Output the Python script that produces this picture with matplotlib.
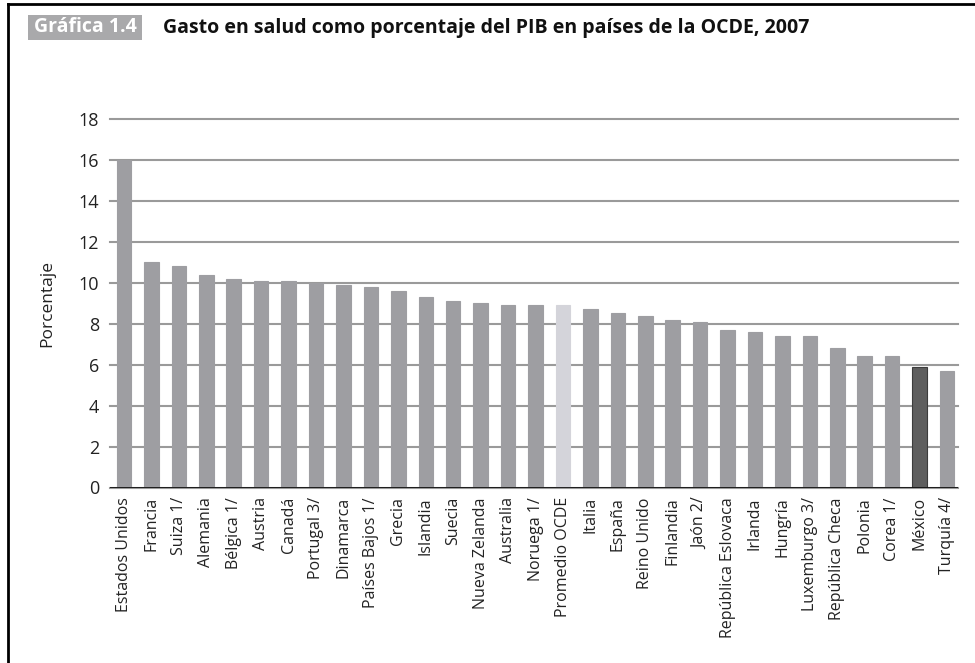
import numpy as np
import matplotlib.pyplot as plt
from matplotlib.lines import Line2D
from matplotlib.patches import Rectangle

paises = ["Estados Unidos", "Francia", "Suiza 1/", "Alemania", "Bélgica 1/",
          "Austria", "Canadá", "Portugal 3/", "Dinamarca", "Países Bajos 1/",
          "Grecia", "Islandia", "Suecia", "Nueva Zelanda", "Australia",
          "Noruega 1/", "Promedio OCDE", "Italia", "España", "Reino Unido",
          "Finlandia", "Jaón 2/", "República Eslovaca", "Irlanda", "Hungría",
          "Luxemburgo 3/", "República Checa", "Polonia", "Corea 1/", "México",
          "Turquía 4/"]
gasto = [16.0, 11.0, 10.8, 10.4, 10.2,
         10.1, 10.1, 10.0, 9.9, 9.8,
         9.6, 9.3, 9.1, 9.0, 8.9,
         8.9, 8.9, 8.7, 8.5, 8.4,
         8.2, 8.1, 7.7, 7.6, 7.4,
         7.4, 6.8, 6.4, 6.4, 5.9,
         5.7]
yticks = [0, 2, 4, 6, 8, 10, 12, 14, 16, 18]

plt.rcParams['font.family'] = ['Open Sans', 'DejaVu Sans']

fig = plt.figure(figsize=(9.75, 6.63), dpi=100)
ax = fig.add_axes([110/975, 1 - 487.5/663, 848/975, (487.5 - 119)/663])

colores = []
for p in paises:
    if p == "Promedio OCDE":
        colores.append('#d4d4da')
    elif p == "México":
        colores.append('#5e5e5e')
    else:
        colores.append('#9e9ea2')
bordes = ['#3c3c3c' if p == "México" else c for p, c in zip(paises, colores)]

x = np.arange(len(paises))
ax.bar(x, gasto, width=0.53, color=colores, edgecolor=bordes, linewidth=0.8,
       zorder=3)

ax.set_xlim(-0.51, 30.4)
ax.set_ylim(0, 18)
ax.set_yticks(yticks)
ax.set_yticklabels([str(t) for t in yticks], fontsize=13, color='#222222')
ax.set_xticks(x)
ax.set_xticklabels(paises, rotation=90, fontsize=11.5, color='#222222')
ax.tick_params(axis='both', length=0)
ax.tick_params(axis='y', pad=8)
ax.tick_params(axis='x', pad=7)

ax.grid(axis='y', color='#9a9a9a', linewidth=1.5, zorder=1, clip_on=False)
for s in ax.spines.values():
    s.set_visible(False)
ax.axhline(0, color='#111111', linewidth=2, zorder=4)

ax.set_ylabel("Porcentaje", fontsize=12.5, color='#222222')
ax.yaxis.set_label_coords(-0.065, 0.5)

# encabezado
fig.patches.append(Rectangle((28/975, 1 - 40/663), 114/975, 25/663,
                             transform=fig.transFigure, facecolor='#a9a9ab',
                             edgecolor='none'))
fig.text(85/975, 1 - 27.5/663, "Gráfica 1.4", ha='center', va='center',
         fontsize=14, fontweight='bold', color='white')
fig.text(163/975, 1 - 28/663,
         "Gasto en salud como porcentaje del PIB en países de la OCDE, 2007",
         ha='left', va='center', fontsize=14, fontweight='bold',
         color='#111111')

# marco
fig.add_artist(Line2D([8/975, 8/975], [0, 1 - 4/663], color='black',
                      linewidth=2, transform=fig.transFigure))
fig.add_artist(Line2D([8/975, 1], [1 - 4/663, 1 - 4/663], color='black',
                      linewidth=2, transform=fig.transFigure))

fig.savefig("out.png", dpi=100)
